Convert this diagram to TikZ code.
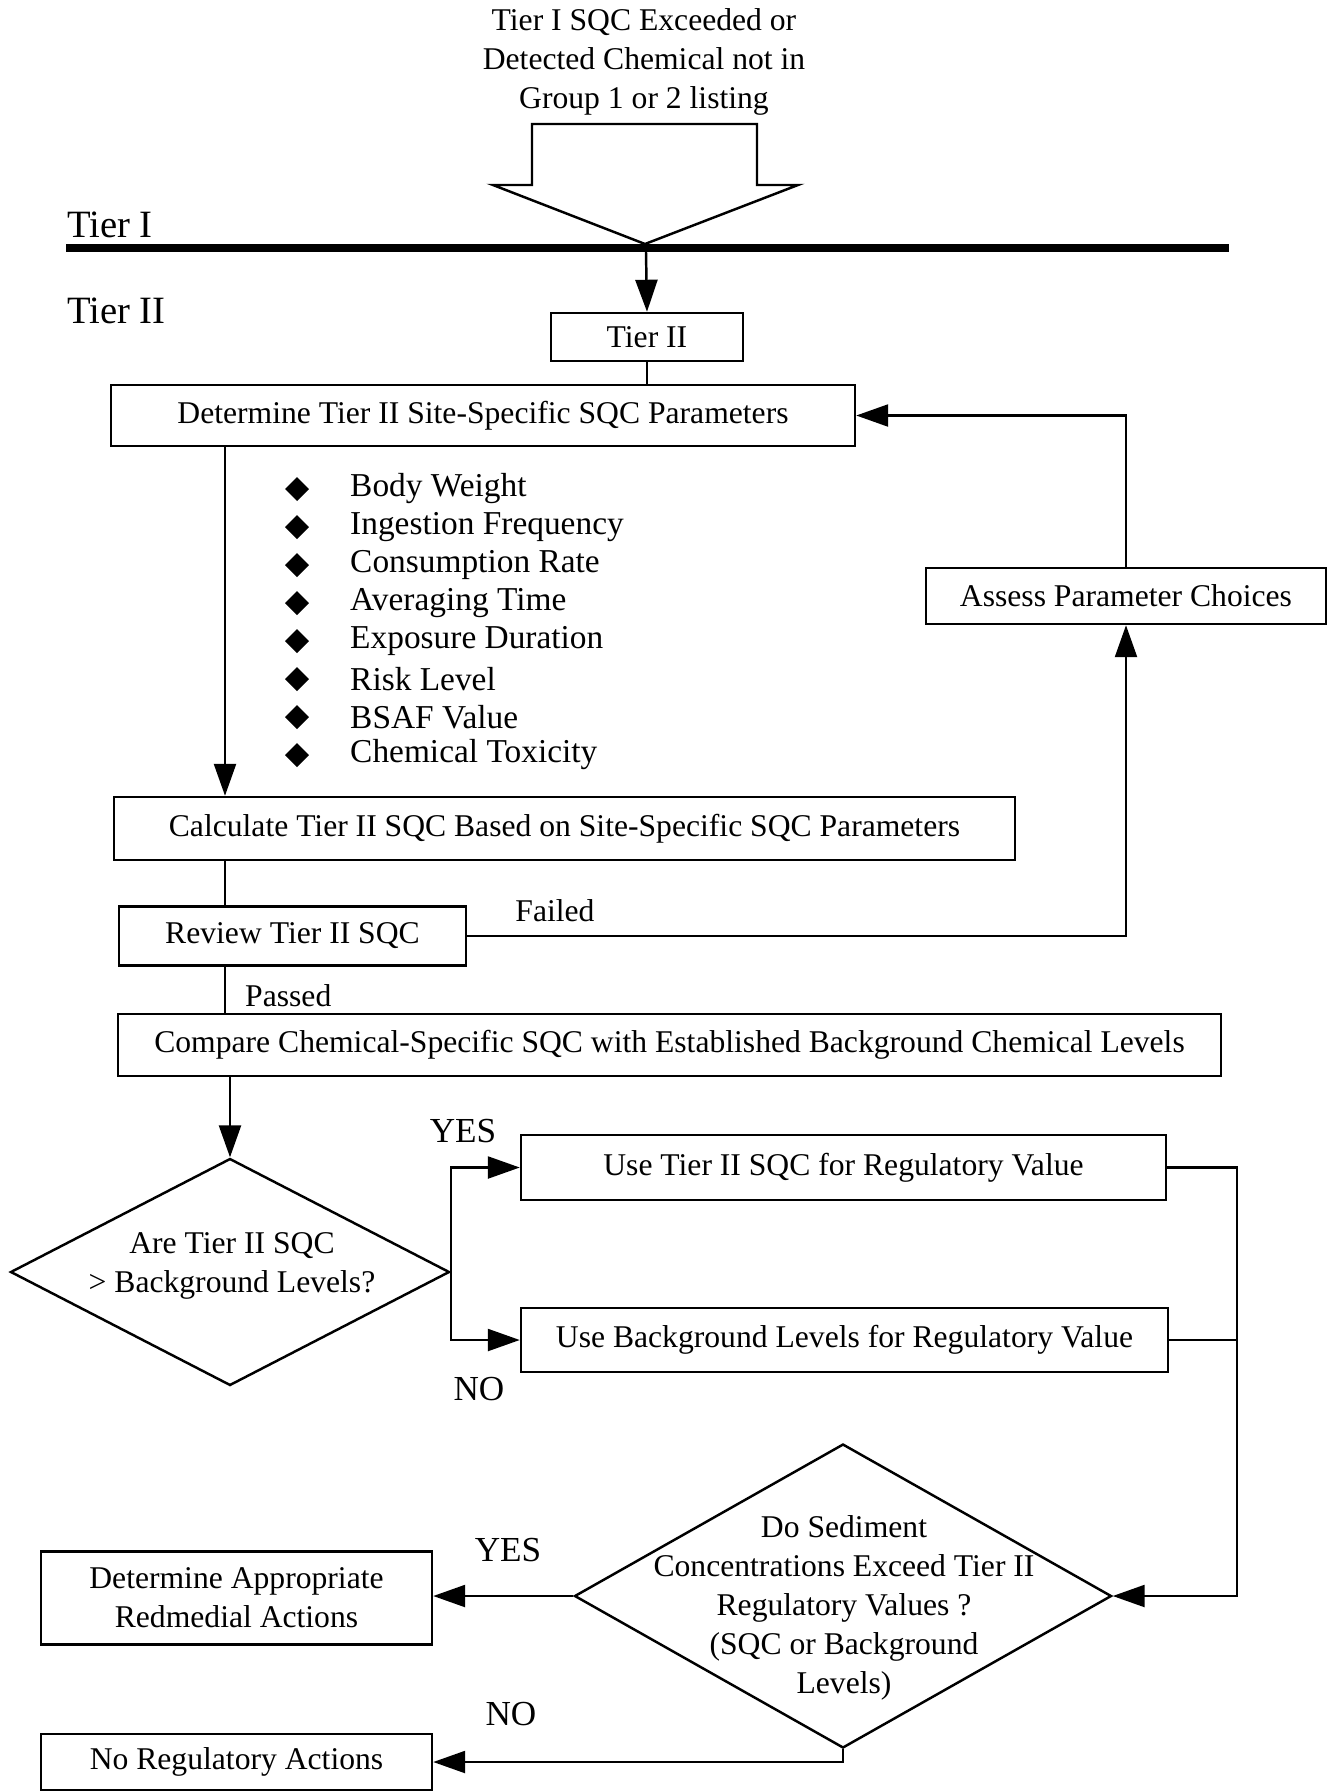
\documentclass[tikz,border=0pt]{standalone}
\usepackage{fontspec}
\setmainfont{Liberation Serif}
\usetikzlibrary{arrows.meta,shapes.geometric}

\begin{document}
\begin{tikzpicture}[
  >={Triangle[length=0.32cm,width=0.22cm]},
  line width=0.7pt,
  txt/.style={font=\fontsize{9}{11.1}\selectfont, align=center, inner sep=0pt},
  box/.style={draw, rectangle, txt},
  decision/.style={draw, diamond},
  bullet/.style={diamond, fill=black, inner sep=0pt, minimum width=0.25cm, minimum height=0.25cm},
  param/.style={font=\fontsize{9.5}{11.5}\selectfont, anchor=west, inner sep=0pt},
  tag/.style={font=\fontsize{10}{12}\selectfont, inner sep=0pt},
  tier/.style={font=\fontsize{11}{13}\selectfont, anchor=west, inner sep=0pt}
]
\useasboundingbox (0,0) rectangle (13.32,-17.92);

%Entry
\node[txt] (entry) at (6.44,-0.62) {Tier I SQC Exceeded or\\Detected Chemical not in\\Group 1 or 2 listing};
\draw (5.32,-1.24) -- (7.57,-1.24) -- (7.57,-1.85) -- (7.98,-1.85) -- (6.45,-2.44) -- (4.93,-1.85) -- (5.32,-1.85) -- cycle;

%Tier line
\node[tier] (lblI) at (0.66,-2.25) {Tier I};
\node[tier] (lblII) at (0.66,-3.11) {Tier II};
\draw[line width=0.08cm] (0.66,-2.48) -- (12.29,-2.48);
\coordinate (split) at (6.46,-2.52);

%Tier II
\node[box, minimum width=1.92cm, minimum height=0.48cm] (t2) at (6.47,-3.37) {Tier II};
\node[box, minimum width=7.44cm, minimum height=0.61cm] (det) at (4.83,-4.155) {Determine Tier II Site-Specific SQC Parameters};
\node[box, minimum width=4.00cm, minimum height=0.56cm] (assess) at (11.26,-5.96) {Assess Parameter Choices};

\foreach \pname [count=\i] in {Body Weight, Ingestion Frequency, Consumption Rate, Averaging Time, Exposure Duration, Risk Level, BSAF Value, Chemical Toxicity}
{
  \node[bullet] (dot\i) at (2.97,{-4.89-0.38*(\i-1)}) {};
  \node[param] (par\i) at (3.49,{-4.89-0.38*(\i-1)}) {\pname};
}

\node[box, minimum width=9.01cm, minimum height=0.63cm] (calc) at (5.645,-8.285) {Calculate Tier II SQC Based on Site-Specific SQC Parameters};
\node[box, minimum width=3.47cm, minimum height=0.59cm] (review) at (2.925,-9.36) {Review Tier II SQC};
\node[box, minimum width=11.03cm, minimum height=0.62cm] (compare) at (6.695,-10.45) {Compare Chemical-Specific SQC with Established Background Chemical Levels};

%Background check
\node[decision, minimum width=4.39cm, minimum height=2.27cm] (q1) at (2.30,-12.72) {};
\node[txt] (q1text) at (2.32,-12.66) {Are Tier II SQC\\> Background Levels?};
\node[box, minimum width=6.45cm, minimum height=0.65cm] (usesqc) at (8.435,-11.675) {Use Tier II SQC for Regulatory Value};
\node[box, minimum width=6.47cm, minimum height=0.64cm] (usebg) at (8.445,-13.40) {Use Background Levels for Regulatory Value};

%Sediment check
\node[decision, minimum width=5.37cm, minimum height=3.04cm] (q2) at (8.43,-15.96) {};
\node[txt] (q2text) at (8.44,-16.075) {Do Sediment\\Concentrations Exceed Tier II\\Regulatory Values ?\\(SQC or Background\\Levels)};
\node[box, minimum width=3.91cm, minimum height=0.93cm] (remedial) at (2.365,-15.98) {Determine Appropriate\\Redmedial Actions};
\node[box, minimum width=3.91cm, minimum height=0.56cm] (noreg) at (2.365,-17.62) {No Regulatory Actions};

%Labels
\node[txt, anchor=west] (passed) at (2.44,-9.96) {Passed};
\node[txt] (failed) at (5.55,-9.11) {Failed};
\node[tag] (yes1) at (4.63,-11.31) {YES};
\node[tag] (no1) at (4.79,-13.89) {NO};
\node[tag] (yes2) at (5.08,-15.50) {YES};
\node[tag] (no2) at (5.11,-17.14) {NO};

%Connectors
\coordinate (trunk) at (2.25,-6);
\coordinate (join) at (12.37,-15.9);
\draw[->] (split) -- (t2.north);
\draw (t2.south) -- (t2.south |- det.north);
\draw[->] (trunk |- det.south) -- (trunk |- calc.north);
\draw (trunk |- calc.south) -- (trunk |- review.north);
\draw (trunk |- review.south) -- (trunk |- compare.north);
\draw[->] (review.east) -| (assess.south);
\draw[->] (assess.north) |- (det.east);
\draw[->] (compare.south -| q1.north) -- (q1.north);
\draw[->] (q1.east) |- (usesqc.west);
\draw[->] (q1.east) |- (usebg.west);
\draw[->] (usesqc.east) -| (join |- q2.east) -- (q2.east);
\draw (usebg.east) -- (join |- usebg.east);
\draw[->] (q2.west) -- (q2.west -| remedial.east);
\draw[->] (q2.south) |- (noreg.east);

\end{tikzpicture}
\end{document}
